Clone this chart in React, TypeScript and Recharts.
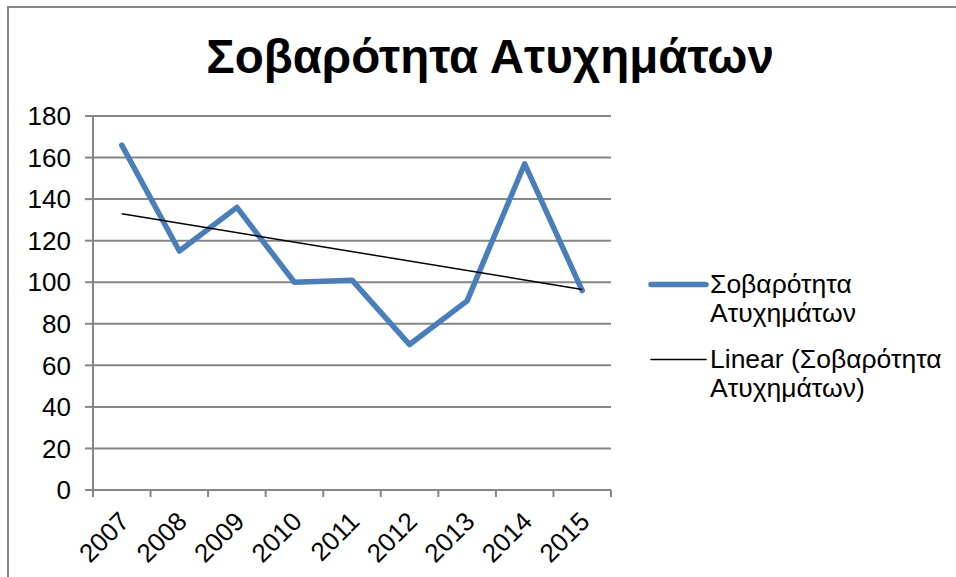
import { CartesianGrid, ComposedChart, Line, XAxis, YAxis } from "recharts"

const years = ["2007", "2008", "2009", "2010", "2011", "2012", "2013", "2014", "2015"]
const severity = [166, 115, 136, 100, 101, 70, 91, 157, 96]
// linear trend line, ends
const trendEnds = [133, 96.5]
const yTicks = [0, 20, 40, 60, 80, 100, 120, 140, 160, 180]

const seriesName = "Σοβαρότητα Ατυχημάτων"
const trendName = "Linear (Σοβαρότητα Ατυχημάτων)"

const FONT = "'Liberation Sans', Arial, sans-serif"
const BLUE = "#4A7EBB"
const GRAY = "#868686"

const W = 956
const H = 577
const M = { top: 116, right: 345, bottom: 0, left: 0 }
const Y_AXIS_W = 93
const X_AXIS_H = 87
const PLOT_W = W - M.left - M.right - Y_AXIS_W

const data = years.map((year, i) => ({
  year,
  severity: severity[i],
  trend: i === 0 ? trendEnds[0] : i === years.length - 1 ? trendEnds[1] : null,
}))

function YearTick(props: any) {
  const { x, y, payload, index } = props
  const bw = PLOT_W / years.length
  const last = index === years.length - 1
  return (
    <g>
      <line x1={x - bw / 2} x2={x - bw / 2} y1={y} y2={y + 7} stroke={GRAY} strokeWidth={2} />
      {last && <line x1={x + bw / 2} x2={x + bw / 2} y1={y} y2={y + 7} stroke={GRAY} strokeWidth={2} />}
      <text
        transform={`translate(${x - 4},${y + 20}) rotate(-45)`}
        textAnchor="end"
        dy="0.71em"
        fontFamily={FONT}
        fontSize={26}
        fill="#000"
      >
        {payload.value}
      </text>
    </g>
  )
}

function LegendBox() {
  const entries = [
    { name: seriesName, color: BLUE, width: 5.5 },
    { name: trendName, color: "#000", width: 1.5 },
  ]
  return (
    <div style={{ fontFamily: FONT, fontSize: 26.5, lineHeight: "29px", color: "#000" }}>
      {entries.map((e, i) => (
        <div key={e.name} style={{ display: "flex", alignItems: "flex-start", marginTop: i ? 17 : 0 }}>
          <svg width={62} height={29} style={{ flex: "none" }}>
            <line x1={3} x2={58} y1={14.5} y2={14.5} stroke={e.color} strokeWidth={e.width} strokeLinecap="round" />
          </svg>
          <div style={{ width: 240 }}>{e.name}</div>
        </div>
      ))}
    </div>
  )
}

export default function App() {
  return (
    <div style={{ position: "absolute", left: 0, top: 0, width: W, height: H, overflow: "hidden", background: "#fff" }}>
      <div
        style={{
          position: "absolute",
          left: 7,
          top: 6,
          width: W + 50,
          height: H + 50,
          border: `2px solid ${GRAY}`,
        }}
      />
      <div
        style={{
          position: "absolute",
          left: 490,
          top: 33,
          transform: "translateX(-50%)",
          whiteSpace: "nowrap",
          fontFamily: FONT,
          fontWeight: "bold",
          fontSize: 47.5,
          lineHeight: "47px",
          color: "#000",
        }}
      >
        {seriesName}
      </div>
      <div style={{ position: "absolute", left: 0, top: 0 }}>
        <ComposedChart width={W} height={H} data={data} margin={M}>
          <CartesianGrid vertical={false} stroke={GRAY} strokeWidth={2} />
          <XAxis
            dataKey="year"
            scale="band"
            height={X_AXIS_H}
            interval={0}
            axisLine={{ stroke: GRAY, strokeWidth: 2 }}
            tickLine={false}
            tickSize={0}
            tickMargin={0}
            tick={<YearTick />}
          />
          <YAxis
            width={Y_AXIS_W}
            domain={[0, 180]}
            ticks={yTicks}
            interval={0}
            axisLine={{ stroke: GRAY, strokeWidth: 2 }}
            tickLine={{ stroke: GRAY, strokeWidth: 2 }}
            tickSize={8}
            tickMargin={14}
            tick={{ fill: "#000", fontSize: 26, fontFamily: FONT }}
          />
          <Line
            dataKey="severity"
            name={seriesName}
            stroke={BLUE}
            strokeWidth={5.5}
            strokeLinejoin="round"
            strokeLinecap="round"
            dot={false}
            activeDot={false}
            isAnimationActive={false}
          />
          <Line
            dataKey="trend"
            name={trendName}
            stroke="#000"
            strokeWidth={1.5}
            connectNulls
            dot={false}
            activeDot={false}
            isAnimationActive={false}
          />
        </ComposedChart>
      </div>
      <div style={{ position: "absolute", left: 648, top: 270 }}>
        <LegendBox />
      </div>
    </div>
  )
}
